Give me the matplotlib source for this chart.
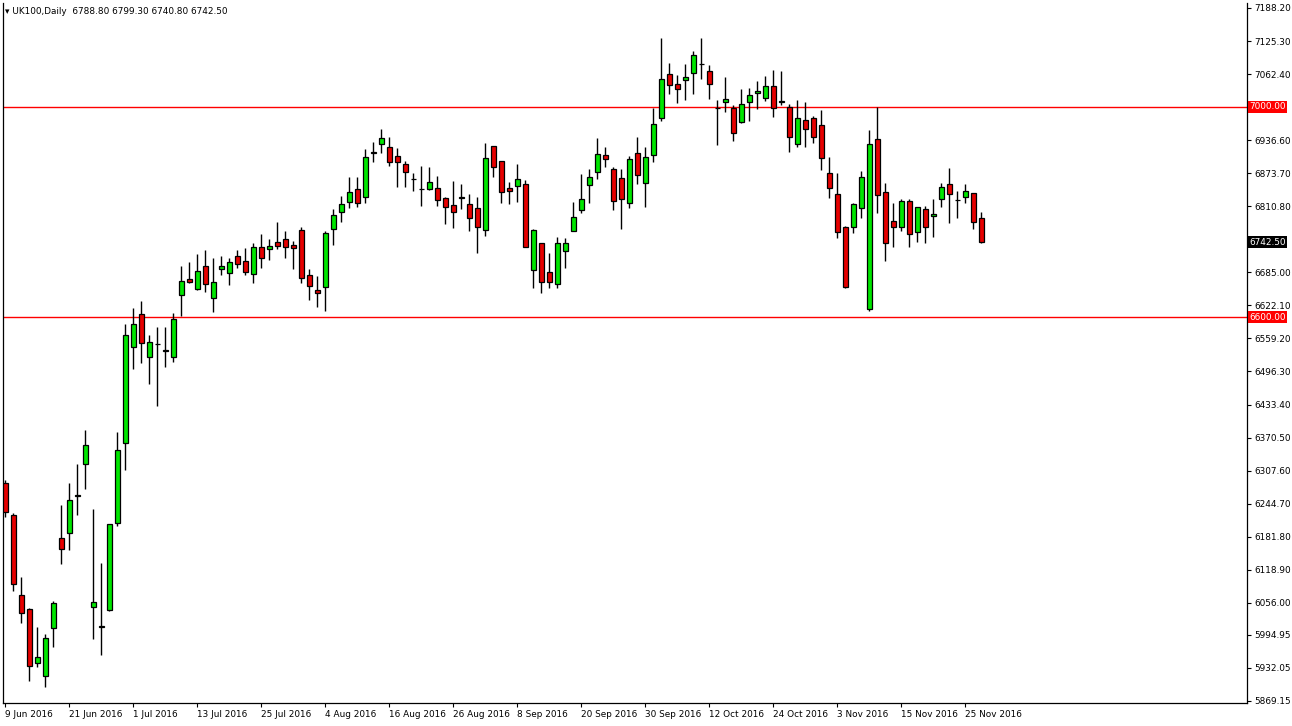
import matplotlib.pyplot as plt
import numpy as np

# daily OHLC, UK100, 9 Jun 2016 .. 29 Nov 2016
opens = [6284, 6223, 6071, 6044, 5941, 5917, 6008, 6179, 6189, 6259, 6320, 6048, 6010, 6042, 6208, 6360,
         6543, 6605, 6524, 6548, 6535, 6524, 6642, 6672, 6653, 6697, 6636, 6691, 6684, 6716, 6706, 6682,
         6733, 6729, 6742, 6748, 6737, 6765, 6680, 6651, 6657, 6767, 6800, 6819, 6843, 6828, 6912, 6929,
         6923, 6906, 6891, 6862, 6843, 6843, 6845, 6826, 6813, 6826, 6815, 6807, 6765, 6925, 6897, 6845,
         6849, 6853, 6689, 6741, 6685, 6663, 6725, 6763, 6803, 6851, 6876, 6908, 6881, 6864, 6817, 6912,
         6855, 6908, 6978, 7062, 7043, 7051, 7064, 7081, 7068, 6997, 7009, 6997, 6971, 7009, 7026, 7017,
         7039, 7009, 6999, 6929, 6975, 6978, 6965, 6874, 6834, 6771, 6771, 6807, 6615, 6938, 6838, 6782,
         6771, 6821, 6761, 6805, 6792, 6824, 6853, 6822, 6828, 6836, 6788.8]
highs = [6290, 6227, 6105, 6046, 6010, 5996, 6059, 6242, 6284, 6320, 6385, 6234, 6132, 6206, 6381, 6586,
         6617, 6630, 6565, 6581, 6581, 6607, 6697, 6704, 6720, 6727, 6712, 6716, 6712, 6727, 6731, 6741,
         6758, 6748, 6781, 6763, 6744, 6771, 6691, 6678, 6763, 6805, 6830, 6866, 6866, 6919, 6933, 6957,
         6942, 6921, 6897, 6874, 6887, 6885, 6868, 6828, 6859, 6853, 6834, 6828, 6931, 6925, 6897, 6857,
         6891, 6860, 6767, 6741, 6722, 6752, 6750, 6819, 6872, 6881, 6940, 6923, 6885, 6881, 6906, 6942,
         6923, 6997, 7131, 7083, 7060, 7081, 7106, 7131, 7079, 7013, 7056, 7003, 7034, 7036, 7049, 7058,
         7070, 7068, 7005, 7013, 7009, 6982, 6994, 6904, 6874, 6773, 6817, 6878, 6956, 7000, 6855, 6817,
         6824, 6824, 6809, 6811, 6824, 6855, 6883, 6840, 6853, 6836, 6799.3]
lows = [6219, 6078, 6017, 5907, 5934, 5896, 5972, 6130, 6156, 6223, 6272, 5987, 5957, 6040, 6202, 6309,
        6501, 6512, 6472, 6430, 6505, 6514, 6602, 6664, 6651, 6647, 6609, 6680, 6661, 6693, 6680, 6664,
        6693, 6708, 6729, 6712, 6691, 6664, 6632, 6619, 6611, 6737, 6781, 6807, 6809, 6817, 6895, 6912,
        6887, 6847, 6847, 6840, 6811, 6841, 6811, 6777, 6769, 6805, 6763, 6722, 6754, 6866, 6817, 6815,
        6819, 6733, 6655, 6645, 6655, 6655, 6693, 6763, 6798, 6817, 6862, 6885, 6803, 6767, 6807, 6853,
        6809, 6895, 6973, 7024, 7007, 7013, 7024, 7053, 7015, 6927, 6990, 6935, 6969, 6973, 6996, 7011,
        6980, 7003, 6914, 6923, 6923, 6931, 6880, 6826, 6750, 6655, 6760, 6788, 6611, 6798, 6706, 6733,
        6763, 6733, 6742, 6741, 6752, 6809, 6779, 6788, 6817, 6767, 6740.8]
closes = [6229, 6092, 6037, 5936, 5953, 5989, 6056, 6158, 6252, 6259, 6356, 6057, 6010, 6206, 6347, 6565,
          6586, 6550, 6552, 6548, 6535, 6596, 6668, 6666, 6687, 6663, 6666, 6697, 6704, 6701, 6685, 6733,
          6712, 6735, 6735, 6733, 6731, 6674, 6659, 6645, 6760, 6794, 6815, 6838, 6817, 6904, 6912, 6940,
          6895, 6895, 6876, 6862, 6843, 6857, 6822, 6809, 6800, 6826, 6788, 6771, 6902, 6885, 6838, 6840,
          6862, 6733, 6765, 6666, 6666, 6741, 6741, 6790, 6824, 6866, 6910, 6900, 6820, 6824, 6900, 6870,
          6904, 6967, 7053, 7041, 7034, 7056, 7098, 7081, 7043, 6997, 7015, 6950, 7005, 7022, 7030, 7039,
          6997, 7009, 6942, 6978, 6958, 6942, 6902, 6845, 6761, 6657, 6815, 6866, 6929, 6832, 6741, 6771,
          6821, 6758, 6809, 6771, 6796, 6847, 6834, 6822, 6840, 6781, 6742.5]

date_labels = ['9 Jun 2016', '21 Jun 2016', '1 Jul 2016', '13 Jul 2016', '25 Jul 2016', '4 Aug 2016',
               '16 Aug 2016', '26 Aug 2016', '8 Sep 2016', '20 Sep 2016', '30 Sep 2016', '12 Oct 2016',
               '24 Oct 2016', '3 Nov 2016', '15 Nov 2016', '25 Nov 2016']
price_ticks = [7188.20, 7125.30, 7062.40, 6936.60, 6873.70, 6810.80, 6685.00, 6622.10, 6559.20,
               6496.30, 6433.40, 6370.50, 6307.60, 6244.70, 6181.80, 6118.90, 6056.00, 5994.95,
               5932.05, 5869.15]
levels = [7000.0, 6600.0]

o = np.array(opens, float)
h = np.array(highs, float)
l = np.array(lows, float)
c = np.array(closes, float)
idx = np.arange(len(o))

fs = 6.4
fig = plt.figure(figsize=(12.92, 7.26), dpi=100)
ax = fig.add_axes([3 / 1292, 23 / 726, 1244 / 1292, 700 / 726])
ax.set_xlim(-0.3, 155.2)
ax.set_ylim(5865.3, 7197.7)

# support / resistance lines
for lv in levels:
    ax.axhline(lv, color='red', lw=1, zorder=1)

# wicks
ax.vlines(idx, l, h, color='black', lw=1, zorder=2)

# bodies
up = c >= o
body = np.abs(c - o)
bottom = np.minimum(o, c)
ax.bar(idx[up], np.maximum(body[up], 1.5), bottom=bottom[up], width=0.62,
       color='#00e600', edgecolor='black', lw=0.9, zorder=3)
ax.bar(idx[~up], np.maximum(body[~up], 1.5), bottom=bottom[~up], width=0.62,
       color='#e60000', edgecolor='black', lw=0.9, zorder=3)

# axes styling
ax.spines['top'].set_visible(False)
for s in ['left', 'right', 'bottom']:
    ax.spines[s].set_color('black')
    ax.spines[s].set_linewidth(0.9)
ax.yaxis.tick_right()
ax.set_yticks(price_ticks)
ax.set_yticklabels([f'{t:.2f}' for t in price_ticks], fontsize=fs)
ax.tick_params(axis='y', direction='out', length=3, pad=2)
ax.set_xticks(idx[::8][:len(date_labels)])
ax.set_xticklabels(date_labels, fontsize=fs, ha='left')
ax.tick_params(axis='x', direction='out', length=3, pad=2)

# price labels on the right axis
box = dict(boxstyle='square,pad=0.15', lw=0)
for lv in levels:
    ax.text(1.002, lv, f'{lv:.2f}', transform=ax.get_yaxis_transform(), fontsize=fs,
            color='white', va='center', ha='left', bbox=dict(box, fc='red'))
ax.text(1.002, c[-1], f'{c[-1]:.2f}', transform=ax.get_yaxis_transform(), fontsize=fs,
        color='white', va='center', ha='left', bbox=dict(box, fc='black'))

ax.text(0.002, 0.995, f'\u25be UK100,Daily  {o[-1]:.2f} {h[-1]:.2f} {l[-1]:.2f} {c[-1]:.2f}',
        transform=ax.transAxes, fontsize=fs, va='top', ha='left')

fig.savefig('out.png', dpi=100)
